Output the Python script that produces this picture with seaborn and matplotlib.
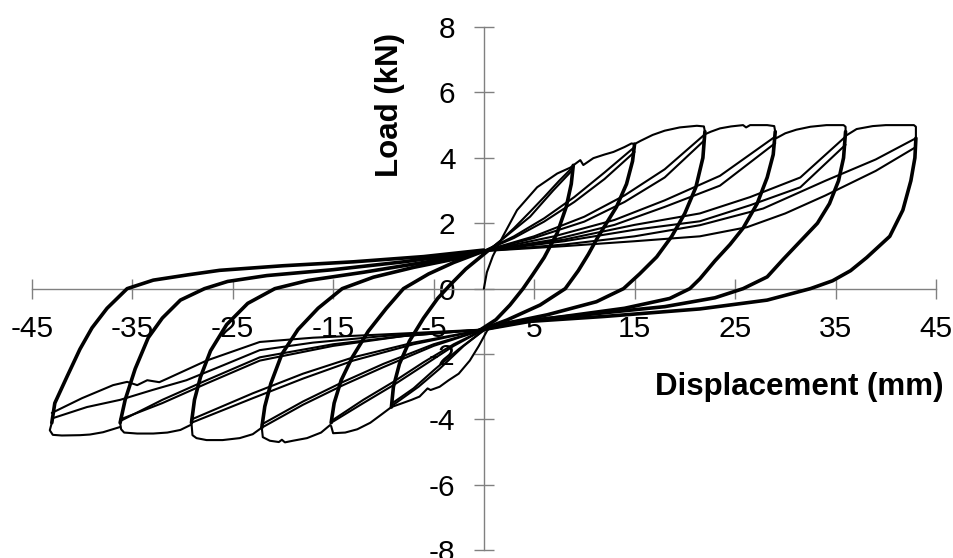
import numpy as np
import pandas as pd
import matplotlib
matplotlib.use("Agg")
import matplotlib.pyplot as plt
import seaborn as sns

# Tick positions and labels
x_ticks = [-45, -35, -25, -15, -5, 5, 15, 25, 35, 45]
y_ticks = [-8, -6, -4, -2, 0, 2, 4, 6, 8]

# First loading from the origin and first push to the negative side
virgin_pos = [(0.0, 0.0), (0.3, 0.5), (0.9, 1.0), (1.9, 1.6), (3.3, 2.4), (5.3, 3.1),
              (7.3, 3.52), (8.6, 3.7), (8.9, 3.77)]
virgin_neg = [(0.6, -1.17), (0.3, -1.3), (-0.5, -1.75), (-1.4, -2.2), (-2.5, -2.6), (-3.5, -2.8),
              (-4.4, -3.0), (-5.3, -3.1), (-5.6, -3.05), (-6.4, -3.3), (-7.2, -3.4), (-8.1, -3.5),
              (-9.2, -3.62)]

# First-cycle envelope beyond the previous peak (positive side)
pos_top = [
    [(8.9, 3.77), (9.6, 3.93), (9.9, 3.78), (10.9, 3.99), (12.0, 4.1), (12.9, 4.18),
     (14.0, 4.33), (14.7, 4.44), (15.0, 4.42)],
    [(15.0, 4.42), (15.6, 4.52), (16.8, 4.7), (18.0, 4.83), (19.5, 4.93), (21.2, 4.98),
     (21.9, 4.96), (22.0, 4.8)],
    [(22.0, 4.72), (22.6, 4.8), (23.5, 4.9), (24.6, 4.96), (25.8, 5.0), (26.1, 4.93),
     (26.5, 5.0), (28.2, 5.0), (28.9, 4.97), (29.0, 4.8)],
    [(29.1, 4.6), (30.0, 4.75), (31.1, 4.86), (32.5, 4.95), (34.1, 5.0), (35.8, 5.0),
     (36.0, 4.95), (36.0, 4.8)],
    [(36.1, 4.69), (37.1, 4.88), (38.7, 4.97), (40.0, 5.0), (41.4, 5.0), (42.8, 5.0),
     (43.0, 4.95), (43.0, 4.6)],
]

# First-cycle envelope beyond the previous peak (negative side)
neg_bottom = [
    [(-9.2, -3.62), (-10.2, -3.85), (-11.3, -4.1), (-12.6, -4.3), (-13.8, -4.4),
     (-15.0, -4.42), (-15.2, -4.2)],
    [(-15.3, -4.17), (-16.2, -4.4), (-17.6, -4.57), (-19.0, -4.65), (-19.8, -4.7),
     (-20.1, -4.62), (-20.4, -4.69), (-21.3, -4.65), (-22.0, -4.54), (-22.1, -4.25)],
    [(-22.1, -4.25), (-23.0, -4.45), (-24.3, -4.57), (-26.0, -4.63), (-27.6, -4.63),
     (-28.6, -4.57), (-29.0, -4.48), (-29.1, -4.1)],
    [(-29.2, -4.17), (-30.2, -4.32), (-31.5, -4.4), (-32.9, -4.43), (-34.5, -4.43),
     (-35.8, -4.4), (-36.1, -4.3), (-36.2, -4.1)],
    [(-36.2, -4.23), (-37.9, -4.39), (-39.2, -4.46), (-40.2, -4.48), (-42.0, -4.49),
     (-42.9, -4.47), (-43.2, -4.33), (-43.0, -4.1)],
]

# Unloading branches from the positive peaks
pos_unload = [
    [(8.9, 3.77), (8.7, 3.2), (8.2, 2.5), (7.3, 1.7), (6.0, 0.95), (4.8, 0.4), (3.9, 0.0),
     (2.6, -0.5), (1.2, -0.95), (-0.4, -1.27)],
    [(15.0, 4.42), (14.8, 3.9), (14.2, 3.2), (13.2, 2.5), (12.2, 2.0), (11.3, 1.55),
     (10.4, 1.05), (9.4, 0.55), (8.1, 0.0), (5.6, -0.5), (2.3, -0.96), (-0.4, -1.27)],
    [(22.0, 4.8), (21.8, 4.0), (21.1, 3.1), (20.0, 2.3), (18.7, 1.6), (17.2, 0.97),
     (15.5, 0.45), (13.9, 0.0), (11.2, -0.4), (6.3, -0.8), (1.6, -1.1), (-0.4, -1.27)],
    [(29.0, 4.8), (28.8, 4.1), (28.2, 3.4), (27.2, 2.6), (25.8, 1.85), (24.5, 1.35),
     (23.0, 0.85), (21.5, 0.3), (20.5, 0.0), (18.5, -0.3), (14.0, -0.6), (8.0, -0.85),
     (3.0, -1.05), (-0.4, -1.27)],
    [(36.0, 4.8), (35.8, 4.0), (35.3, 3.3), (34.4, 2.6), (33.2, 2.0), (31.5, 1.45),
     (29.8, 0.9), (28.2, 0.36), (25.8, 0.0), (23.0, -0.28), (18.0, -0.55), (10.0, -0.8),
     (3.0, -1.02), (-0.4, -1.27)],
    [(43.0, 4.6), (42.9, 4.0), (42.5, 3.3), (41.7, 2.4), (40.4, 1.6), (38.1, 0.95),
     (36.5, 0.55), (34.7, 0.24), (32.5, 0.0), (28.2, -0.35), (21.5, -0.62), (12.0, -0.85),
     (4.6, -1.0), (-0.4, -1.27)],
]

# Unloading branches from the negative peaks
neg_unload = [
    [(-9.2, -3.62), (-9.0, -3.0), (-8.4, -2.3), (-7.4, -1.6), (-6.0, -0.9), (-4.6, -0.3),
     (-3.4, 0.1), (-1.8, 0.6), (0.5, 1.18)],
    [(-15.2, -4.1), (-14.9, -3.5), (-14.2, -2.8), (-13.1, -2.1), (-11.5, -1.3), (-9.7, -0.6),
     (-8.0, 0.0), (-5.5, 0.45), (-3.0, 0.8), (0.0, 1.15)],
    [(-22.1, -4.25), (-21.8, -3.6), (-21.2, -2.9), (-20.1, -2.0), (-18.5, -1.25),
     (-16.5, -0.6), (-14.1, 0.0), (-11.0, 0.35), (-7.0, 0.65), (-3.0, 0.9), (0.0, 1.15)],
    [(-29.1, -4.1), (-28.8, -3.4), (-28.2, -2.7), (-27.2, -1.9), (-25.6, -1.1),
     (-23.5, -0.45), (-20.8, 0.0), (-17.5, 0.25), (-12.0, 0.5), (-6.0, 0.8), (0.0, 1.15)],
    [(-36.2, -4.1), (-35.7, -3.4), (-34.7, -2.45), (-33.4, -1.5), (-32.0, -0.9),
     (-30.2, -0.35), (-27.8, 0.0), (-25.5, 0.22), (-21.6, 0.4), (-15.0, 0.58),
     (-8.0, 0.82), (0.0, 1.15)],
    [(-43.0, -4.1), (-42.7, -3.5), (-41.5, -2.7), (-40.2, -1.85), (-39.0, -1.2),
     (-37.5, -0.6), (-35.5, 0.0), (-32.9, 0.26), (-29.5, 0.42), (-26.3, 0.56),
     (-20.0, 0.7), (-13.0, 0.82), (-6.0, 0.98), (0.0, 1.18)],
]

# Repeated-cycle reloading towards the positive peaks
pos_reload = [
    [(0.5, 1.18), (1.6, 1.45), (3.0, 1.85), (4.6, 2.35), (6.0, 2.8), (7.5, 3.3), (8.8, 3.7)],
    [(0.5, 1.18), (2.0, 1.55), (4.6, 2.2), (6.9, 3.0), (8.8, 3.62)],
    [(0.0, 1.15), (3.0, 1.6), (6.0, 2.15), (9.0, 2.8), (12.0, 3.55), (15.0, 4.33)],
    [(0.0, 1.15), (3.0, 1.55), (6.0, 2.05), (9.0, 2.65), (12.0, 3.35), (15.0, 4.18)],
    [(0.0, 1.15), (5.0, 1.6), (10.0, 2.2), (14.0, 2.85), (18.0, 3.65), (22.0, 4.72)],
    [(0.0, 1.15), (5.0, 1.55), (10.0, 2.05), (14.0, 2.65), (18.0, 3.4), (22.0, 4.55)],
    [(0.0, 1.15), (7.0, 1.6), (13.0, 2.1), (18.0, 2.7), (23.5, 3.45), (29.0, 4.65)],
    [(0.0, 1.15), (7.0, 1.5), (13.0, 1.95), (18.0, 2.5), (23.5, 3.15), (29.0, 4.45)],
    [(0.0, 1.15), (8.0, 1.5), (15.0, 1.95), (21.5, 2.3), (26.5, 2.8), (31.5, 3.4), (36.0, 4.65)],
    [(0.0, 1.15), (8.0, 1.45), (15.0, 1.8), (21.5, 2.06), (26.5, 2.55), (31.5, 3.1), (36.0, 4.4)],
    [(0.0, 1.15), (8.0, 1.35), (15.0, 1.6), (21.5, 1.94), (27.8, 2.45), (34.0, 3.3),
     (39.0, 3.95), (43.0, 4.6)],
    [(0.0, 1.15), (8.0, 1.3), (15.0, 1.45), (21.5, 1.6), (26.2, 1.88), (30.0, 2.3),
     (34.0, 2.85), (39.0, 3.6), (43.0, 4.33)],
]

# Repeated-cycle reloading towards the negative peaks
neg_reload = [
    [(0.3, -1.2), (-2.0, -1.75), (-4.4, -2.45), (-6.5, -3.0), (-9.0, -3.55)],
    [(0.3, -1.2), (-2.5, -1.85), (-5.0, -2.5), (-7.0, -3.05), (-9.1, -3.5)],
    [(0.0, -1.25), (-3.0, -1.75), (-6.0, -2.35), (-9.0, -2.95), (-12.0, -3.5), (-15.2, -4.1)],
    [(0.0, -1.25), (-3.0, -1.7), (-6.0, -2.25), (-9.0, -2.85), (-12.0, -3.4), (-15.2, -4.05)],
    [(0.0, -1.25), (-5.0, -1.75), (-10.0, -2.4), (-14.0, -2.95), (-18.0, -3.55), (-22.1, -4.25)],
    [(0.0, -1.25), (-5.0, -1.7), (-10.0, -2.3), (-14.0, -2.85), (-18.0, -3.45), (-22.1, -4.15)],
    [(0.0, -1.25), (-7.0, -1.7), (-13.0, -2.2), (-18.0, -2.75), (-23.0, -3.35), (-29.1, -4.1)],
    [(0.0, -1.25), (-7.0, -1.65), (-13.0, -2.1), (-18.0, -2.6), (-23.0, -3.2), (-29.1, -4.0)],
    [(0.0, -1.25), (-8.0, -1.45), (-15.0, -1.7), (-22.3, -2.1), (-27.6, -2.8), (-32.0, -3.4),
     (-36.2, -4.05)],
    [(0.0, -1.25), (-8.0, -1.45), (-15.0, -1.75), (-22.3, -2.2), (-27.6, -2.9), (-32.0, -3.5),
     (-36.2, -4.0)],
    [(0.0, -1.25), (-10.0, -1.4), (-17.0, -1.5), (-22.3, -1.63), (-27.6, -2.2), (-31.5, -2.75),
     (-32.3, -2.86), (-33.5, -2.8), (-34.5, -2.95), (-35.5, -2.85), (-36.9, -2.95),
     (-40.0, -3.35), (-43.0, -3.8)],
    [(0.0, -1.25), (-10.0, -1.45), (-17.0, -1.65), (-22.3, -1.88), (-26.0, -2.35),
     (-29.6, -2.8), (-33.0, -3.1), (-36.2, -3.4), (-39.5, -3.62), (-42.9, -3.96)],
]


def to_frame(curve_list, start_id=0):
    rows = []
    for i, pts in enumerate(curve_list):
        for x, y in pts:
            rows.append({"curve": start_id + i, "x": x, "y": y})
    return pd.DataFrame(rows)


thin_curves = [virgin_pos, virgin_neg] + pos_top + neg_bottom + pos_reload + neg_reload
thick_curves = pos_unload + neg_unload
thin_df = to_frame(thin_curves)
thick_df = to_frame(thick_curves, start_id=len(thin_curves))

sns.set_style("white")
plt.rcParams["font.family"] = ["Liberation Sans", "DejaVu Sans"]
plt.rcParams["axes.unicode_minus"] = False
plt.rcParams["text.color"] = "black"

fig = plt.figure(figsize=(9.54, 5.58), dpi=100)
ax = fig.add_axes([31.7 / 954, (558 - 550.3) / 558, 904.3 / 954, 523.3 / 558])

sns.lineplot(data=thin_df, x="x", y="y", units="curve", estimator=None, sort=False,
             color="black", linewidth=1.5, solid_joinstyle="round", ax=ax)
sns.lineplot(data=thick_df, x="x", y="y", units="curve", estimator=None, sort=False,
             color="black", linewidth=2.6, solid_joinstyle="round", ax=ax)

ax.set_xlim(-45, 45)
ax.set_ylim(-8, 8)
ax.set_xlabel("")
ax.set_ylabel("")
ax.set_xticks(x_ticks)
ax.set_xticklabels([str(t) for t in x_ticks])
ax.set_yticks(y_ticks)
ax.set_yticklabels([str(t) for t in y_ticks])

# Axes cross at the origin
for side in ["top", "right"]:
    ax.spines[side].set_visible(False)
ax.spines["left"].set_position(("data", 0))
ax.spines["bottom"].set_position(("data", 0))
for side in ["left", "bottom"]:
    ax.spines[side].set_color("#808080")
    ax.spines[side].set_linewidth(1.0)
    ax.spines[side].set_zorder(1)

ax.tick_params(axis="both", direction="inout", length=14, width=1.0, color="#808080",
               labelsize=21.5, labelcolor="black", bottom=True, left=True)
ax.tick_params(axis="x", pad=12)
ax.tick_params(axis="y", pad=13.5)
ax.set_facecolor("white")

fig.text(944 / 954, 1 - 387 / 558, "Displacement (mm)", ha="right", va="center",
         fontsize=22.5, fontweight="bold", color="black")
fig.text(390 / 954, 1 - 105 / 558, "Load (kN)", ha="center", va="center", rotation=90,
         fontsize=22.5, fontweight="bold", color="black")

fig.savefig("out.png", dpi=100, facecolor="white")
